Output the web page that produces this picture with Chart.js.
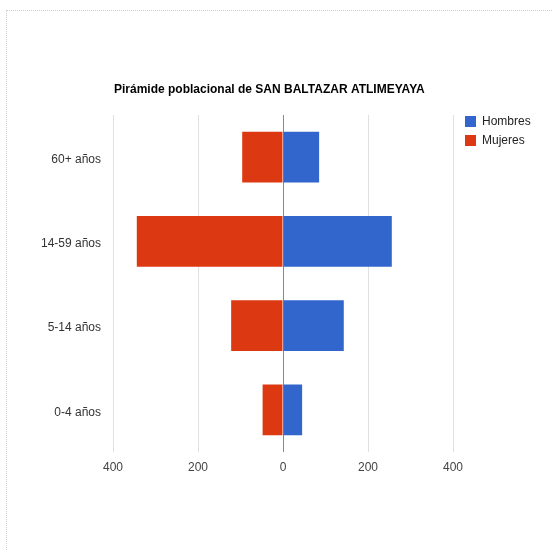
<!DOCTYPE html>
<html>
<head>
<meta charset="utf-8">
<script src="https://cdn.jsdelivr.net/npm/chart.js@4"></script>
<style>
    html, body { margin: 0; padding: 0; background: #fff; }
    #wrap { position: relative; width: 552px; height: 550px; }
    #frame {
        position: absolute; left: 6px; top: 10px; right: 0; bottom: 0;
        border-top: 1px dotted #d0d0d0; border-left: 1px dotted #d0d0d0;
    }
    canvas { position: absolute; left: 0; top: 0; }
</style>
</head>
<body>
<div id="wrap">
    <div id="frame"></div>
    <canvas id="pyramid-chart" width="552" height="550"></canvas>
</div>
<script>
const chartTitle = 'Pirámide poblacional de SAN BALTAZAR ATLIMEYAYA';
const ageGroups = ['60+ años', '14-59 años', '5-14 años', '0-4 años'];
const hombres = [85, 256, 143, 45];
const mujeres = [-96, -344, -122, -48];
const xTicks = [-400, -200, 0, 200, 400];

const blue = '#3366cc';
const red = '#dc3912';

Chart.defaults.font.family = 'Arial, "Liberation Sans", sans-serif';
Chart.defaults.font.size = 12;

// Title and legend drawn the way Google Charts places them
const headerPlugin = {
    id: 'header',
    afterDraw(chart) {
        const ctx = chart.ctx;
        const area = chart.chartArea;
        ctx.save();
        ctx.fillStyle = '#000';
        ctx.font = 'bold 12px Arial, "Liberation Sans", sans-serif';
        ctx.textBaseline = 'middle';
        ctx.textAlign = 'left';
        ctx.fillText(chartTitle, area.left + 1, 90);

        const items = [['Hombres', blue], ['Mujeres', red]];
        ctx.font = '12px Arial, "Liberation Sans", sans-serif';
        items.forEach((item, i) => {
            const y = 116 + i * 19;
            ctx.fillStyle = item[1];
            ctx.fillRect(465, y, 11, 11);
            ctx.fillStyle = '#222';
            ctx.fillText(item[0], 482, y + 6);
        });
        ctx.restore();
    }
};

const ctx = document.getElementById('pyramid-chart').getContext('2d');
new Chart(ctx, {
    type: 'bar',
    data: {
        labels: ageGroups,
        datasets: [
            {
                label: 'Hombres',
                data: hombres,
                backgroundColor: blue,
                categoryPercentage: 1,
                barPercentage: 0.605
            },
            {
                label: 'Mujeres',
                data: mujeres,
                backgroundColor: red,
                categoryPercentage: 1,
                barPercentage: 0.605
            }
        ]
    },
    options: {
        indexAxis: 'y',
        responsive: false,
        animation: false,
        layout: {
            padding: { left: 6, right: 99, top: 115, bottom: 72 }
        },
        scales: {
            x: {
                stacked: true,
                min: -400,
                max: 400,
                afterBuildTicks: axis => {
                    axis.ticks = xTicks.map(v => ({ value: v }));
                },
                afterFit: axis => { axis.height = 26; },
                ticks: {
                    color: '#444',
                    padding: 8,
                    callback: value => Math.abs(value)
                },
                grid: {
                    drawTicks: false,
                    color: context => context.tick && context.tick.value === 0 ? '#888' : '#e0e0e0',
                    lineWidth: 1
                },
                border: { display: false }
            },
            y: {
                stacked: true,
                afterFit: axis => { axis.width = 107; },
                ticks: {
                    color: '#333',
                    padding: 12,
                    labelOffset: 2.5
                },
                grid: { display: false, drawTicks: false },
                border: { display: false }
            }
        },
        plugins: {
            legend: { display: false },
            title: { display: false },
            tooltip: { enabled: false }
        }
    },
    plugins: [headerPlugin]
});
</script>
</body>
</html>
